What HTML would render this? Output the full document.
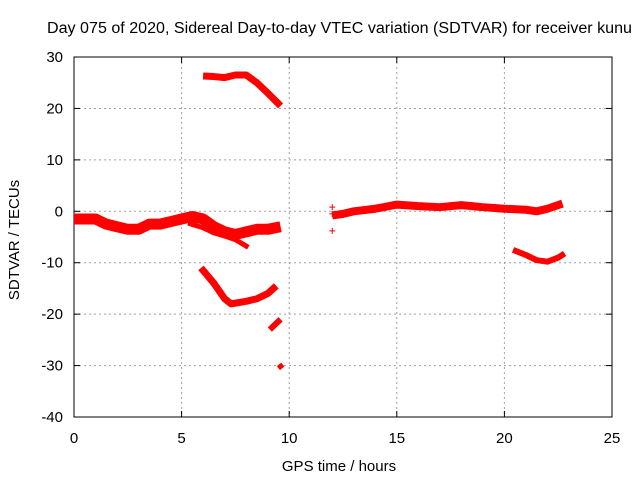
<!DOCTYPE html>
<html><head><meta charset="utf-8"><style>
body{margin:0;background:#fff}
svg text{font-family:"Liberation Sans",sans-serif;font-size:15px;fill:#000}
</style></head><body>
<svg width="640" height="480" xmlns="http://www.w3.org/2000/svg">
<text x="47" y="33" textLength="585" lengthAdjust="spacingAndGlyphs" style="font-size:15.5px">Day 075 of 2020, Sidereal Day-to-day VTEC variation (SDTVAR) for receiver kunu</text>
<g id="grid"></g>
<g id="axes"></g>
<g id="marks"></g>
<text x="339" y="471" text-anchor="middle">GPS time / hours</text>
<text transform="translate(19,240) rotate(-90)" text-anchor="middle">SDTVAR / TECUs</text>
</svg>
<script>
const xTicks=[0,5,10,15,20,25];
const yTicks=[30,20,10,0,-10,-20,-30,-40];
const s1t=[0,0.5,1,1.5,2,2.5,3,3.5,4,4.5,5,5.5,6,6.5,7,7.5,8,8.5,9,9.6];
const s1v=[-1.5,-1.5,-1.5,-2.5,-3,-3.5,-3.5,-2.5,-2.5,-2,-1.5,-1,-1.5,-3,-4,-4.5,-4,-3.5,-3.5,-3];
const s2t=[5.3,6,6.5,7,7.5];
const s2v=[-1.5,-2,-2.8,-3.8,-4.3];
const s3t=[5.3,6,6.5,7,7.5,8.1];
const s3v=[-2.3,-3.2,-4.2,-4.8,-5.5,-7];
const s4t=[6,6.5,7,7.5,8,8.5,9,9.6];
const s4v=[26.3,26.2,26,26.5,26.5,25,23,20.5];
const s5t=[5.9,6.5,7,7.3,8,8.5,9,9.4];
const s5v=[-11,-14,-17,-18,-17.5,-17,-16,-14.5];
const s6t=[9.1,9.6];
const s6v=[-23,-21];
const s7t=[9.5,9.7];
const s7v=[-30.5,-29.8];
const s8t=[12,12.5,13,14,15,16,17,18,19,20,21,21.5,22,22.7];
const s8v=[-0.8,-0.5,0,0.5,1.3,1,0.8,1.2,0.8,0.5,0.3,0,0.5,1.5];
const s9t=[20.4,21,21.5,22,22.5,22.8];
const s9v=[-7.5,-8.5,-9.5,-9.8,-9,-8.2];
const extraT=[12,12,12];
const extraV=[0.8,-0.5,-3.8];
const X=t=>74+t*538/25, Y=v=>211.3-v*360/70;
const NS="http://www.w3.org/2000/svg";
function mk(p,tag,a){const e=document.createElementNS(NS,tag);for(const k in a)e.setAttribute(k,a[k]);p.appendChild(e);return e;}
const grid=document.getElementById('grid'),axes=document.getElementById('axes'),marks=document.getElementById('marks');
xTicks.forEach(t=>{
 if(t>0&&t<25){const l=mk(grid,'line',{x1:X(t),x2:X(t),y1:57,y2:417,stroke:'#a0a0a0','stroke-dasharray':'2,3'});
 
 }
 mk(axes,'line',{x1:X(t),x2:X(t),y1:417,y2:411,stroke:'#000'});
 mk(axes,'line',{x1:X(t),x2:X(t),y1:57,y2:63,stroke:'#000'});
 const tx=mk(axes,'text',{x:X(t),y:443,'text-anchor':'middle'});tx.textContent=t;
 
 
});
yTicks.forEach(v=>{
 if(v<30&&v>-40){const l=mk(grid,'line',{x1:74,x2:612,y1:Y(v),y2:Y(v),stroke:'#a0a0a0','stroke-dasharray':'2,3'});
 
 }
 mk(axes,'line',{x1:74,x2:80,y1:Y(v),y2:Y(v),stroke:'#000'});
 mk(axes,'line',{x1:606,x2:612,y1:Y(v),y2:Y(v),stroke:'#000'});
 const tx=mk(axes,'text',{x:63,y:Y(v)+5,'text-anchor':'end'});tx.textContent=v;
 
 
});
const fr=mk(axes,'rect',{x:74,y:57,width:538,height:360,fill:'none',stroke:'#000'});


const series=[[s1t,s1v,11],[s2t,s2v,5],[s3t,s3v,5],[s4t,s4v,7],[s5t,s5v,7],[s6t,s6v,6],[s7t,s7v,5],[s8t,s8v,8],[s9t,s9v,6]];
series.forEach((s,i)=>{
 const pts=s[0].map((t,j)=>X(t)+','+Y(s[1][j])).join(' ');
 const p=mk(marks,'polyline',{points:pts,fill:'none',stroke:'#ff0000','stroke-width':s[2],'stroke-linejoin':'round'});
 
 
});
extraT.forEach((t,j)=>{
 const x=X(t),y=Y(extraV[j]);
 const p=mk(marks,'path',{d:`M${x-3},${y}h6M${x},${y-3}v6`,stroke:'#ff0000','stroke-width':1});
 
 
});
</script>
</body></html>
